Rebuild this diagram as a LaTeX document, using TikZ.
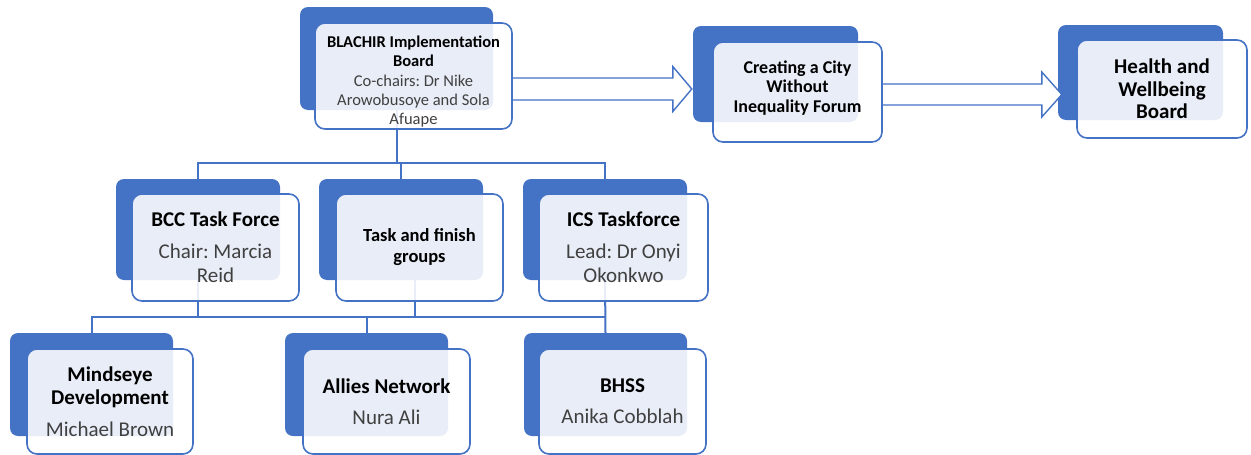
\documentclass[tikz,border=0pt]{standalone}
\usepackage{fontspec}
\setmainfont{Carlito}
\usetikzlibrary{calc}
\definecolor{bblue}{HTML}{4472C4}
\definecolor{subgrey}{HTML}{404040}
\begin{document}
\frenchspacing
\begin{tikzpicture}[x=1pt,y=-1pt,
  backbox/.style={fill=bblue, draw=none, rounded corners=8pt, inner sep=0pt},
  frontbox/.style={fill=white, fill opacity=0.88, text opacity=1, draw=bblue, line width=1.6pt,
    rounded corners=10pt, inner sep=0pt, align=center, text=black},
  conn/.style={draw=bblue, line width=2pt},
  bigarrow/.style={draw=bblue, fill=white, line width=1.4pt, line join=miter}]
\useasboundingbox (0,0) rectangle (1251,455);

% back boxes
\node[backbox, minimum width=193pt, minimum height=103pt] (topB) at (396.5,58.5) {};
\node[backbox, minimum width=165pt, minimum height=96pt] (creB) at (775.5,74) {};
\node[backbox, minimum width=165pt, minimum height=95pt] (healthB) at (1140.5,72.5) {};
\node[backbox, minimum width=164pt, minimum height=101pt] (bccB) at (198,229.5) {};
\node[backbox, minimum width=164pt, minimum height=101pt] (taskB) at (401,229.5) {};
\node[backbox, minimum width=164pt, minimum height=101pt] (icsB) at (605,229.5) {};
\node[backbox, minimum width=163pt, minimum height=103pt] (mindB) at (91.5,384.5) {};
\node[backbox, minimum width=163pt, minimum height=103pt] (alliesB) at (366.5,384.5) {};
\node[backbox, minimum width=163pt, minimum height=103pt] (bhssB) at (605.5,384.5) {};

% connectors
\coordinate (bus1) at (0,163);
\coordinate (bus2) at (0,316.5);
\draw[conn] (topB.south) -- (topB.south |- bus1);
\draw[conn] (bccB.north) -- (bccB.north |- bus1) -- (icsB.north |- bus1) -- (icsB.north);
\draw[conn] (taskB.north) -- (taskB.north |- bus1);
\draw[conn] (bccB.south) -- (bccB.south |- bus2);
\draw[conn] (mindB.north) -- (mindB.north |- bus2) -- (icsB.south |- bus2);
\draw[conn] (alliesB.north |- bus2) -- (alliesB.north);
\coordinate (taskdrop) at ($(taskB.south)+(14,0)$);
\draw[conn] (taskdrop) -- (taskdrop |- bus2);
\draw[conn] (icsB.south) -- (bhssB.north);

% arrow start points on the front boxes' right edges
\coordinate (topFe) at (512,76);
\coordinate (creFe) at (882,92);

% hollow arrows
\coordinate (a1s) at ($(topFe)+(0,13)$);
\coordinate (a1t) at (creB.west |- a1s);
\draw[bigarrow] ($(a1s)+(0,-11)$) -- ($(a1t)+(-20,-11)$) -- ($(a1t)+(-20,-22.5)$) -- ($(a1t)+(-1,0)$)
  -- ($(a1t)+(-20,22.5)$) -- ($(a1t)+(-20,11)$) -- ($(a1s)+(0,11)$) -- cycle;
\coordinate (a2s) at ($(creFe)+(0,2.5)$);
\coordinate (a2t) at ($(healthB.west |- a2s)+(4,0)$);
\draw[bigarrow] ($(a2s)+(0,-10.5)$) -- ($(a2t)+(-20,-10.5)$) -- ($(a2t)+(-20,-22.5)$) -- (a2t)
  -- ($(a2t)+(-20,22.5)$) -- ($(a2t)+(-20,10.5)$) -- ($(a2s)+(0,10.5)$) -- cycle;

% front boxes
\node[frontbox, minimum width=197pt, minimum height=106pt, font=\fontsize{16.5}{19}\selectfont] (topF) at (413.5,76)
  {\mbox{}\\[3pt]\textbf{BLACHIR Implementation}\\\textbf{Board}\\[1pt]\color{subgrey}Co-chairs: Dr Nike\\\color{subgrey}Arowobusoye and Sola\\\color{subgrey}Afuape};
\node[frontbox, minimum width=169pt, minimum height=100pt, font=\fontsize{18}{19.5}\selectfont] (creF) at (797.5,92)
  {\textbf{Creating a City}\\\textbf{Without}\\\textbf{Inequality Forum}\\[-8pt]\mbox{}};
\node[frontbox, minimum width=170pt, minimum height=98pt, font=\fontsize{21}{22.5}\selectfont] (healthF) at (1162,89)
  {\textbf{Health and}\\\textbf{Wellbeing}\\\textbf{Board}};
\node[frontbox, minimum width=167pt, minimum height=107pt, font=\fontsize{21}{24}\selectfont] (bccF) at (215.5,247.5)
  {\textbf{BCC Task Force}\\[8pt]\color{subgrey}Chair: Marcia\\\color{subgrey}Reid};
\node[frontbox, minimum width=167pt, minimum height=107pt, font=\fontsize{18.5}{21}\selectfont] (taskF) at (419.5,247.5)
  {\textbf{Task and finish}\\\textbf{groups}};
\node[frontbox, minimum width=169pt, minimum height=107pt, font=\fontsize{21}{24}\selectfont] (icsF) at (623.5,247.5)
  {\textbf{ICS Taskforce}\\[8pt]\color{subgrey}Lead: Dr Onyi\\\color{subgrey}Okonkwo};
\node[frontbox, minimum width=166pt, minimum height=105pt, font=\fontsize{21}{23}\selectfont] (mindF) at (110,401.5)
  {\textbf{Mindseye}\\\textbf{Development}\\[9pt]\color{subgrey}Michael Brown};
\node[frontbox, minimum width=167pt, minimum height=105pt, font=\fontsize{21}{23}\selectfont] (alliesF) at (386.5,401.5)
  {\textbf{Allies Network}\\[8pt]\color{subgrey}Nura Ali};
\node[frontbox, minimum width=167pt, minimum height=105pt, font=\fontsize{21}{23}\selectfont] (bhssF) at (622.5,401.5)
  {\textbf{BHSS}\\[8pt]\color{subgrey}Anika Cobblah};
\end{tikzpicture}
\end{document}
